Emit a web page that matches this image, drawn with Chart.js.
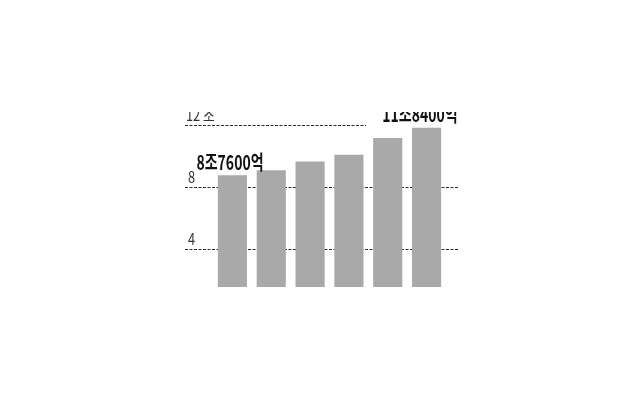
<!DOCTYPE html>
<html>
<head>
<meta charset="utf-8">
<script src="https://cdn.jsdelivr.net/npm/chart.js@4"></script>
<style>
  html, body { margin: 0; padding: 0; background: #fff; }
  #wrap { width: 640px; height: 400px; }
</style>
</head>
<body>
<div id="wrap"><canvas id="graphs"></canvas></div>
<script>
// six years, values in 조 (trillion won)
const years = ['1', '2', '3', '4', '5', '6'];
const values = [8.76, 9.08, 9.66, 10.1, 11.18, 11.84];
const tickValues = [12, 8, 4];
const tickLabels = ['12 조', '8', '4'];
const barLabels = ['8조7600억', '', '', '', '', '11조8400억'];

const FONT = '"Noto Sans CJK KR", "Liberation Sans", sans-serif';

// draw condensed text (the print font is narrow)
function narrowText(ctx, text, x, y, sx) {
    ctx.save();
    ctx.translate(x, y);
    ctx.scale(sx, 1);
    ctx.fillText(text, 0, 0);
    ctx.restore();
}

// dashed guide lines + labels, placed through the y scale
const guides = {
    id: 'guides',
    beforeDatasetsDraw(chart) {
        const ctx = chart.ctx;
        const y = chart.scales.y;
        ctx.save();
        ctx.strokeStyle = '#2a2a2a';
        ctx.lineWidth = 1;
        ctx.setLineDash([3, 1.5]);
        tickValues.forEach(function (v, i) {
            const py = Math.round(y.getPixelForValue(v)) + 0.5;
            const right = i === 0 ? 366 : 458;
            ctx.beginPath();
            ctx.moveTo(185, py);
            ctx.lineTo(right, py);
            ctx.stroke();
        });
        ctx.restore();
    },
    afterDatasetsDraw(chart) {
        const ctx = chart.ctx;
        const y = chart.scales.y;
        ctx.save();
        // picture is cut at the top
        ctx.beginPath();
        ctx.rect(0, 112, chart.width, chart.height);
        ctx.clip();
        ctx.fillStyle = '#333';
        ctx.font = '16px ' + FONT;
        ctx.textBaseline = 'alphabetic';
        ctx.textAlign = 'center';
        tickValues.forEach(function (v, i) {
            const py = y.getPixelForValue(v);
            const w = ctx.measureText(tickLabels[i]).width * 0.8;
            narrowText(ctx, tickLabels[i], (i === 0 ? 186 : 188) + w / 2, py - 4, 0.8);
        });
        ctx.fillStyle = '#111';
        ctx.font = 'bold 20px ' + FONT;
        barLabels.forEach(function (t, i) {
            if (!t) return;
            narrowText(ctx, t, i === 0 ? 230 : 420, i === 0 ? 170 : 122, 0.7);
        });
        ctx.restore();
    }
};

new Chart(document.getElementById('graphs').getContext('2d'), {
    type: 'bar',
    data: {
        labels: years,
        datasets: [{
            data: values,
            backgroundColor: '#a9a9a9',
            borderWidth: 0,
            categoryPercentage: 1,
            barPercentage: 0.75,
        }],
    },
    options: {
        responsive: true,
        maintainAspectRatio: false,
        animation: false,
        layout: {
            padding: { left: 213, right: 194, top: 110, bottom: 113 },
        },
        plugins: {
            legend: { display: false },
            tooltip: { enabled: false },
        },
        scales: {
            x: { display: false },
            y: { display: false, min: 1.5, max: 13 },
        },
    },
    plugins: [guides],
});
</script>
</body>
</html>
